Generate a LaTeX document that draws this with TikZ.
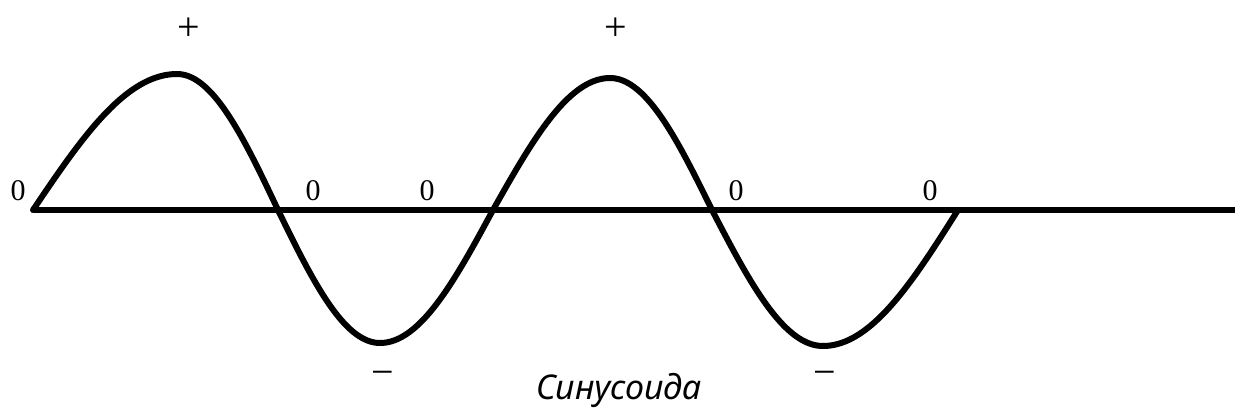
\documentclass[tikz,border=0pt]{standalone}
\usepackage{fontspec}
\setmainfont{Liberation Serif}
\newfontfamily\capfont{Noto Sans}
\begin{document}
\begin{tikzpicture}[x=1pt,y=-1pt,
  heavy/.style={line width=6pt,black},
  zerolbl/.style={font=\fontsize{30}{32}\selectfont,inner sep=0pt},
  signlbl/.style={font=\fontsize{40}{42}\selectfont,inner sep=0pt},
  captionlbl/.style={font=\capfont\fontsize{34}{36}\selectfont\itshape,inner sep=0pt}]
\useasboundingbox (0,0) rectangle (1235,413);
% axis
\coordinate (a0) at (33,210);
\coordinate (a1) at (1235,210);
\draw[heavy] (a0) -- (a1);
% sine curve by quarter waves
\draw[heavy,line join=round,line cap=round]
  plot[domain=0:1,samples=40,variable=\t] ({33+144*\t},{210-136*sin(90*\t)})
  -- plot[domain=0:1,samples=40,variable=\t] ({177+101*\t},{210-136*cos(90*\t)})
  -- plot[domain=0:1,samples=40,variable=\t] ({278+102*\t},{210+133*sin(90*\t)})
  -- plot[domain=0:1,samples=40,variable=\t] ({380+113*\t},{210+133*cos(90*\t)})
  -- plot[domain=0:1,samples=40,variable=\t] ({493+117*\t},{210-132*sin(90*\t)})
  -- plot[domain=0:1,samples=40,variable=\t] ({610+102*\t},{210-132*cos(90*\t)})
  -- plot[domain=0:1,samples=40,variable=\t] ({712+111*\t},{210+136*sin(90*\t)})
  -- plot[domain=0:1,samples=40,variable=\t] ({823+135*\t},{210+136*cos(90*\t)});
% labels
\node[zerolbl] (z1) at (18,191) {0};
\node[zerolbl] (z2) at (313,191) {0};
\node[zerolbl] (z3) at (427,191) {0};
\node[zerolbl] (z4) at (736,191) {0};
\node[zerolbl] (z5) at (930,191) {0};
\node[signlbl] (p1) at (189,29) {+};
\node[signlbl] (p2) at (616,29) {+};
\node[signlbl] (m1) at (383,378) {−};
\node[signlbl] (m2) at (825,378) {−};
\node[captionlbl,anchor=base] (cap) at (619,399) {Синусоида};
\end{tikzpicture}
\end{document}
